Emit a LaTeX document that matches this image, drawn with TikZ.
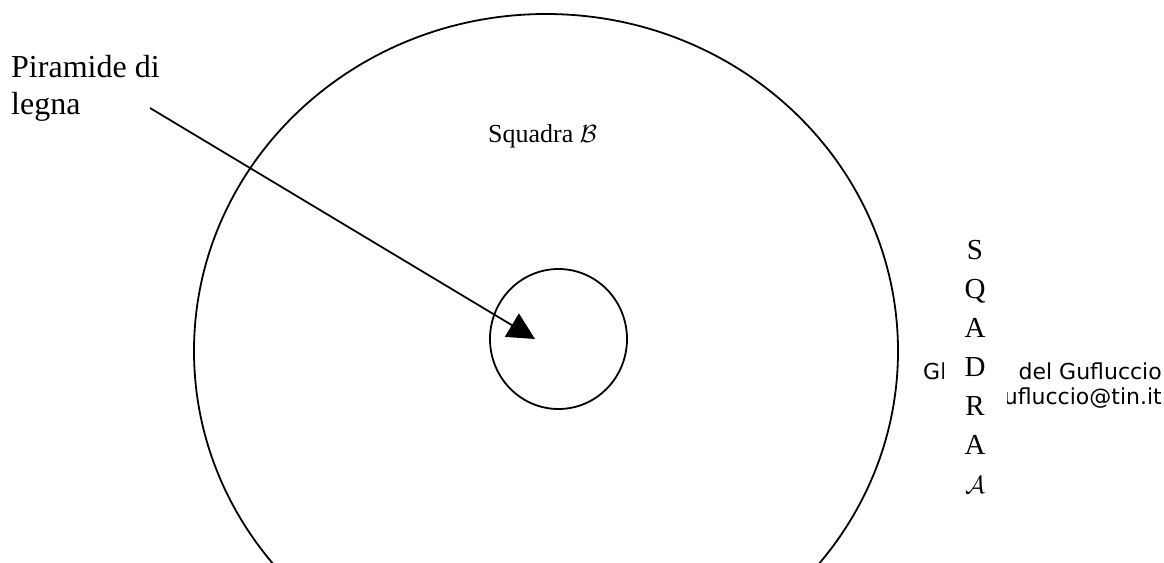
\documentclass[tikz,border=0pt]{standalone}
\usepackage{fontspec}
\setmainfont{Liberation Serif}
\newfontfamily\dejavu{DejaVu Sans}
\usetikzlibrary{arrows.meta,shapes.geometric}
\tikzset{
  ring/.style={draw=black, line width=1.8pt},
  pointer/.style={draw=black, line width=1.8pt, -{Triangle[length=27pt,width=27pt]}},
  serifbig/.style={font=\fontsize{32}{37}\selectfont, inner sep=0pt, align=left},
  serifmid/.style={font=\fontsize{26}{30}\selectfont, inner sep=0pt},
  sanslabel/.style={font=\dejavu\fontsize{22}{25}\selectfont, inner sep=0pt},
  vletters/.style={fill=white, inner sep=0pt, minimum width=63pt, align=center, font=\fontsize{29}{39}\selectfont}
}
\begin{document}
\begin{tikzpicture}[x=1pt,y=-1pt]
\useasboundingbox (0,0) rectangle (1164,562);
\clip (0,0) rectangle (1164,562);
% big field
\draw[ring] (546,351) ellipse [x radius=352, y radius=337];
% small circle
\node[ring, ellipse, minimum width=137pt, minimum height=140pt, inner sep=0pt] (pyre) at (558.5,339) {};
% labels
\node[serifbig, anchor=base west] (pir) at (11,114) {Piramide di\\legna};
\node[serifmid, anchor=base west] (sqb) at (488,142) {Squadra $\mathcal{B}$};
% arrow
\coordinate (arrowstart) at (150,108);
\coordinate (arrowtip) at (535,339);
\draw[pointer] (arrowstart) -- (arrowtip);
% credits
\node[sanslabel, anchor=base west] (gl) at (923,379) {Gl};
\node[sanslabel, anchor=base east] (del) at (1162,379) {del Gufluccio};
\node[sanslabel, anchor=base east] (mail) at (1162,404) {ufluccio@tin.it};
% vertical squad A
\node[vletters, anchor=north] (sqa) at (975,240) {S\\Q\\A\\D\\R\\A\\{\fontsize{24}{39}\selectfont$\mathcal{A}$}};
\end{tikzpicture}
\end{document}
